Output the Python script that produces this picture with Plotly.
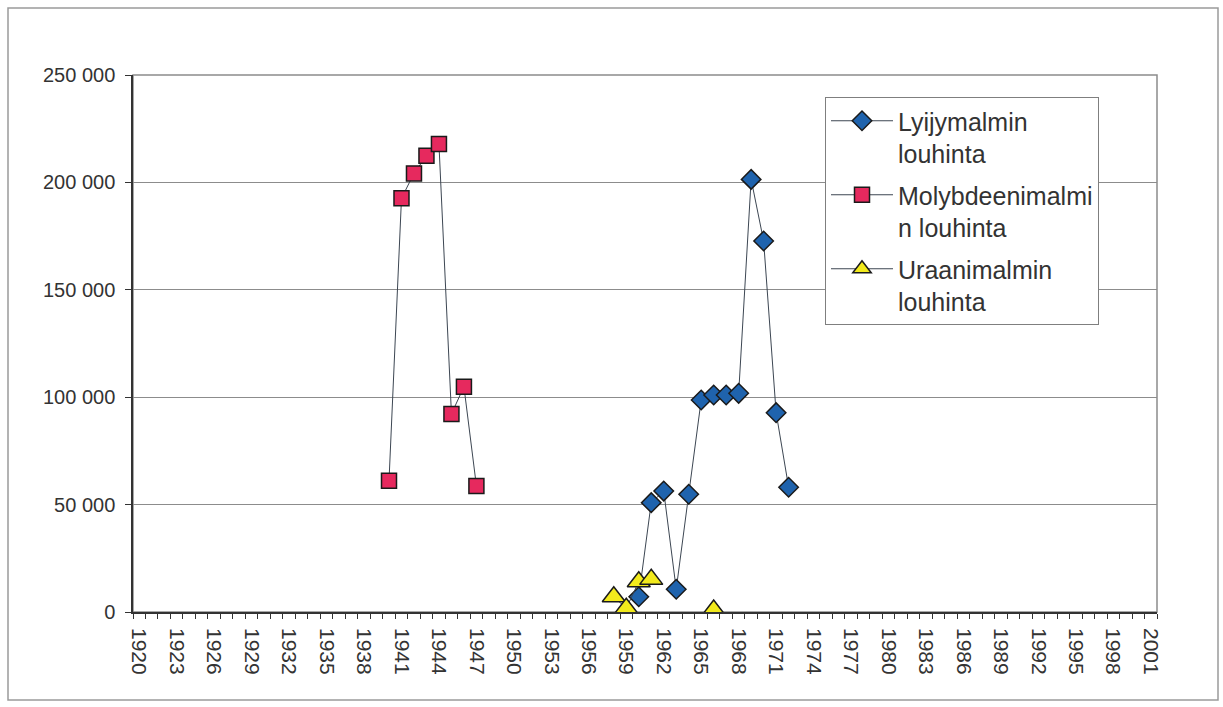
import plotly.graph_objects as go

# Years on the category axis
years = list(range(1920, 2002))
tick_years = list(range(1920, 2002, 3))

# Lyijymalmin louhinta (lead ore mining), tonnes
lead_years = [1960, 1961, 1962, 1963, 1964, 1965, 1966, 1967, 1968, 1969, 1970, 1971, 1972]
lead_values = [7100, 50900, 56300, 10600, 54800, 98700, 101000, 101000, 101800, 201400, 172700, 92800, 58100]

# Molybdeenimalmin louhinta (molybdenum ore mining), tonnes
moly_years = [1940, 1941, 1942, 1943, 1944, 1945, 1946, 1947]
moly_values = [61100, 192600, 204200, 212400, 217900, 92200, 104900, 58700]

# Uraanimalmin louhinta (uranium ore mining), tonnes; None = no data
uran_years = [1958, 1959, 1960, 1961, 1962, 1963, 1964, 1965, 1966]
uran_values = [7100, 1700, 14100, 15200, None, None, None, None, 900]

LINE_COLOR = "#3c4652"
EDGE = "#1a1a1a"
FONT = "Liberation Sans, Arial, sans-serif"

fig = go.Figure()

fig.add_trace(go.Scatter(
    x=lead_years, y=lead_values, mode="lines+markers",
    name="Lyijymalmin<br>louhinta", legendgroup="lead",
    line=dict(color=LINE_COLOR, width=1),
    marker=dict(symbol="diamond", size=15, color="#1f63ad",
                line=dict(color=EDGE, width=1.5)),
))
fig.add_trace(go.Scatter(
    x=moly_years, y=moly_values, mode="lines+markers",
    name="Molybdeenimalmi<br>n louhinta", legendgroup="moly",
    line=dict(color=LINE_COLOR, width=1),
    marker=dict(symbol="square", size=15, color="#e6295e",
                line=dict(color=EDGE, width=1.5)),
))
fig.add_trace(go.Scatter(
    x=uran_years, y=uran_values, mode="lines+markers",
    name="Uraanimalmin<br>louhinta", legendgroup="uran",
    connectgaps=False,
    line=dict(color=LINE_COLOR, width=1),
    marker=dict(symbol="triangle-up", size=20, color="#f2ea1c",
                line=dict(color=EDGE, width=1.5)),
))

L, R, T, B = 133, 66, 75, 95
W, H = 1223, 707
pw, ph = W - L - R, H - T - B

def px_x(v):
    return (v - L) / pw

def px_y(v):
    return (H - B - v) / ph

fig.update_layout(
    width=W, height=H,
    margin=dict(l=L, r=R, t=T, b=B),
    paper_bgcolor="white", plot_bgcolor="white",
    font=dict(family=FONT, color="#333333"),
    separators=", ",
    showlegend=True,
    legend=dict(
        x=px_x(825), y=px_y(97), xanchor="left", yanchor="top",
        bgcolor="white", bordercolor="#7f7f7f", borderwidth=1,
        font=dict(size=25, family=FONT, color="#333333"),
        valign="top", itemwidth=62,
        tracegroupgap=6,
    ),
    xaxis=dict(
        range=[1919.5, 2001.5],
        tickmode="array", tickvals=tick_years,
        ticktext=[str(y) for y in tick_years],
        tickangle=90, ticks="", showgrid=False,
        tickfont=dict(size=21, family=FONT, color="#333333"),
        ticklabelstandoff=10,
        showline=True, linecolor="#333333", linewidth=1.5,
        minor=dict(ticks="outside", tick0=1919.5, dtick=1, ticklen=5,
                   tickcolor="#333333", showgrid=False),
        zeroline=False, fixedrange=True,
    ),
    yaxis=dict(
        range=[0, 250000], dtick=50000, tickformat=",d",
        ticks="outside", ticklen=6, tickcolor="#333333",
        tickfont=dict(size=20, family=FONT, color="#333333"),
        showgrid=True, gridcolor="#8c8c8c", gridwidth=1,
        showline=True, linecolor="#333333", linewidth=1.5,
        zeroline=False, ticklabelstandoff=6, fixedrange=True,
    ),
    shapes=[
        # plot area frame
        dict(type="rect", xref="paper", yref="paper", x0=0, x1=1, y0=0, y1=1,
             line=dict(color="#8c8c8c", width=1.5), layer="below"),
        # chart area frame
        dict(type="rect", xref="paper", yref="paper",
             x0=px_x(8), x1=px_x(1218), y0=px_y(700), y1=px_y(8),
             line=dict(color="#9a9a9a", width=1.5), layer="below"),
    ],
)

fig.write_html("out.html")
